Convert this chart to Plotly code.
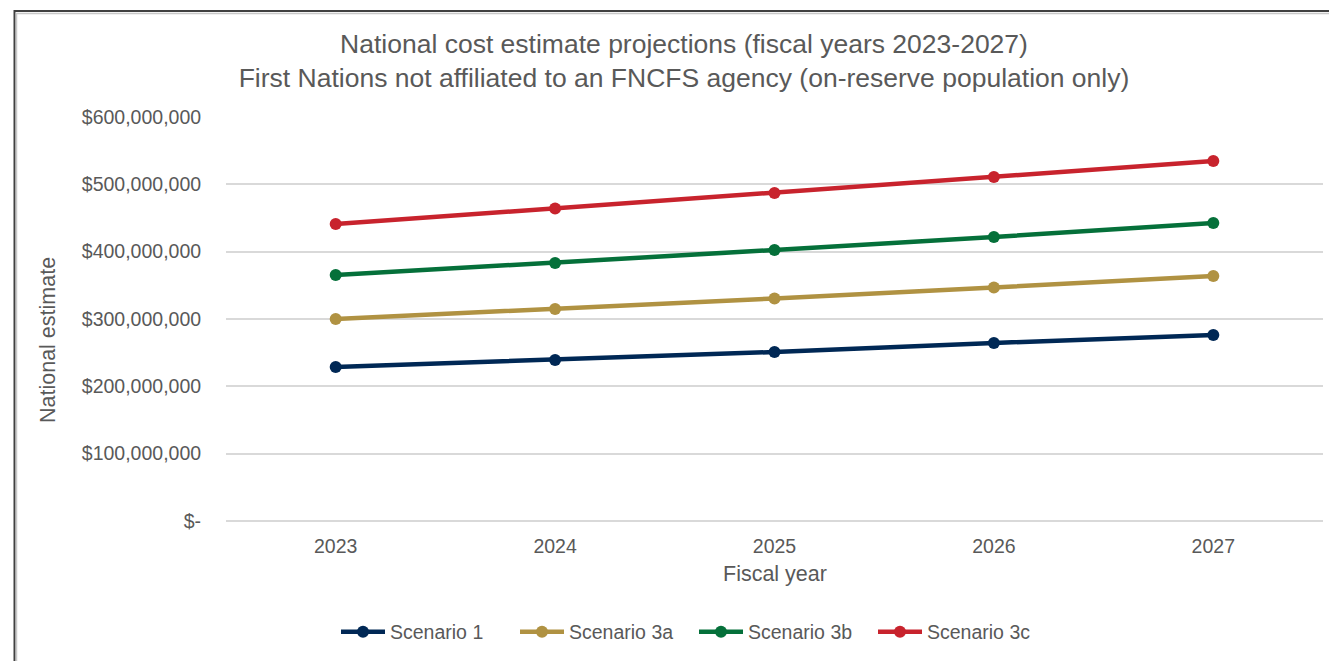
import plotly.graph_objects as go

years = ["2023", "2024", "2025", "2026", "2027"]
scenario_1 = [228.7e6, 239.1e6, 251.0e6, 264.4e6, 276.2e6]
scenario_3a = [300.0e6, 314.9e6, 330.5e6, 346.8e6, 363.9e6]
scenario_3b = [365.3e6, 383.2e6, 402.5e6, 421.8e6, 442.6e6]
scenario_3c = [441.0e6, 464.1e6, 487.1e6, 510.9e6, 534.7e6]
series_names = ["Scenario 1", "Scenario 3a", "Scenario 3b", "Scenario 3c"]
series_colors = ["#002855", "#B09242", "#05703A", "#C8232D"]
y_tick_vals = [0, 100e6, 200e6, 300e6, 400e6, 500e6, 600e6]
y_tick_text = ["$-", "$100,000,000", "$200,000,000", "$300,000,000",
               "$400,000,000", "$500,000,000", "$600,000,000"]

FONT = "Liberation Sans, Arial, sans-serif"
GRAY = "#595959"

fig = go.Figure()
for name, vals, col in zip(series_names, [scenario_1, scenario_3a, scenario_3b, scenario_3c], series_colors):
    fig.add_trace(go.Scatter(
        x=years, y=vals, name=name, mode="lines+markers",
        line=dict(color=col, width=4.5),
        marker=dict(color=col, size=12),
    ))

# page body has an 8px margin; figure sized to fill the rest of the window
OFF = 8
W, H = 1337 - OFF, 661 - OFF
PL, PR, PT, PB = 226, 1323, 117, 521  # plot area in page coordinates
L, R, T, B = PL - OFF, (1337 - PR), PT - OFF, (661 - PB)
pw, ph = PR - PL, PB - PT

def px(x):
    return (x - PL) / pw

def py(y):
    return (PB - y) / ph

fig.update_layout(
    width=W, height=H,
    margin=dict(l=L, r=R, t=T, b=B, autoexpand=False),
    paper_bgcolor="white", plot_bgcolor="white",
    font=dict(family=FONT, color=GRAY, size=19.5),
    title=dict(
        text="National cost estimate projections (fiscal years 2023-2027)<br>First Nations not affiliated to an FNCFS agency (on-reserve population only)",
        x=(684 - OFF) / W, xanchor="center", y=1 - (53 - OFF) / H, yanchor="middle",
        font=dict(family=FONT, size=26.5, color=GRAY),
    ),
    xaxis=dict(
        type="category", range=[-0.5, 4.5], showgrid=False, showline=False,
        ticks="outside", ticklen=8, tickcolor="rgba(0,0,0,0)",
        tickfont=dict(size=19.5, color=GRAY),
    ),
    yaxis=dict(
        range=[0, 600e6], tickvals=y_tick_vals, ticktext=y_tick_text,
        showgrid=True, gridcolor="#D9D9D9", gridwidth=1.5, zeroline=True,
        zerolinecolor="#D9D9D9", zerolinewidth=1.5, showline=False,
        ticks="outside", ticklen=20, tickcolor="rgba(0,0,0,0)",
        tickfont=dict(size=19.5, color=GRAY),
    ),
    showlegend=True,
    legend=dict(
        orientation="h", x=px(694), xanchor="center",
        y=py(632), yanchor="middle", font=dict(size=19.5, color=GRAY),
        itemwidth=44, tracegroupgap=0, bgcolor="rgba(0,0,0,0)",
        entrywidth=120, entrywidthmode="pixels",
    ),
    annotations=[
        dict(text="National estimate", xref="paper", yref="paper",
             x=px(48), y=py(340), xanchor="center", yanchor="middle",
             textangle=-90, showarrow=False, font=dict(size=21.5, color=GRAY)),
        dict(text="Fiscal year", xref="paper", yref="paper",
             x=px(775), y=py(574), xanchor="center", yanchor="middle",
             showarrow=False, font=dict(size=21.5, color=GRAY)),
    ],
    shapes=[
        dict(type="rect", xref="paper", yref="paper",
             x0=px(14.5), x1=px(1400), y0=py(720), y1=py(11),
             line=dict(color="#404040", width=2), fillcolor="rgba(0,0,0,0)", layer="below"),
        dict(type="rect", xref="paper", yref="paper",
             x0=px(16.5), x1=px(1400), y0=py(720), y1=py(13.5),
             line=dict(color="#C8C8C8", width=1.5), fillcolor="rgba(0,0,0,0)", layer="below"),
    ],
)

fig.write_html("out.html")
